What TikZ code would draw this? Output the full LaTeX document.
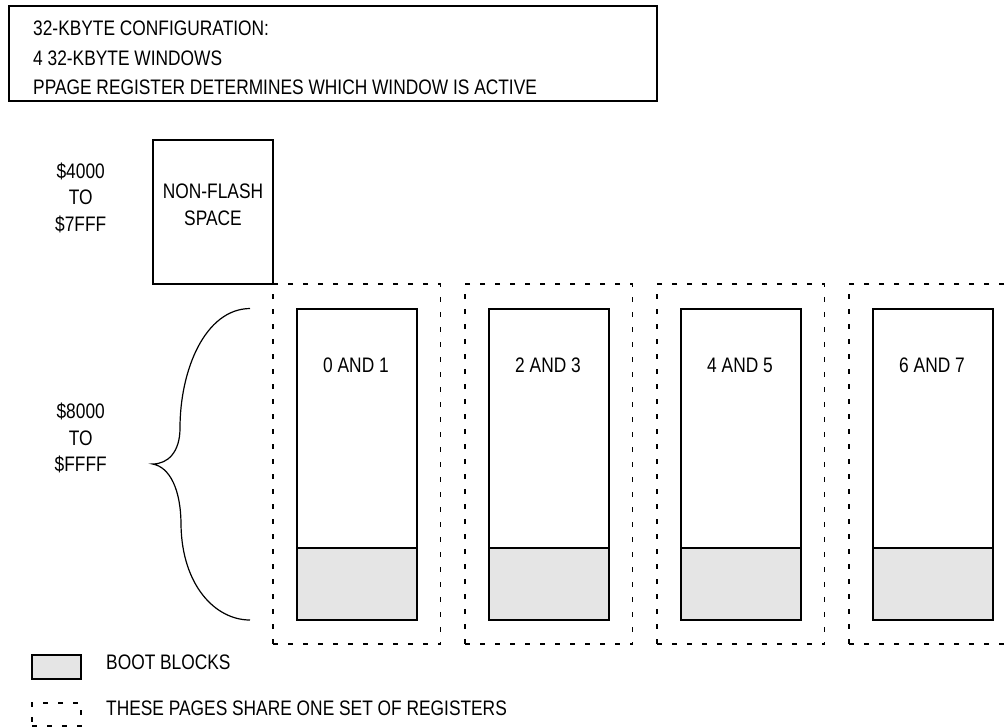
\documentclass[tikz,border=0pt]{standalone}
\usepackage{fontspec}
\setmainfont{Liberation Sans}[FakeStretch=0.826]
\definecolor{bootgray}{HTML}{E5E5E5}
\begin{document}
\begin{tikzpicture}[x=1pt,y=-1pt,
  txt/.style={font=\fontsize{21}{25}\selectfont, inner sep=0pt},
  solidbox/.style={draw, line width=1.3pt, inner sep=0pt},
  bootbox/.style={solidbox, fill=bootgray},
  sharebox/.style={draw, line width=1.4pt, inner sep=0pt, dash pattern=on 5pt off 10pt},
  bracepath/.style={line width=1.2pt}
]
\useasboundingbox (0,0) rectangle (1008,727);

% header box
\node[solidbox, minimum width=648pt, minimum height=95pt] (hdr) at (333,53.5) {};
\node[txt, anchor=base west] (h1) at (33,36) {32-KBYTE CONFIGURATION:};
\node[txt, anchor=base west] (h2) at (33,66) {4 32-KBYTE WINDOWS};
\node[txt, anchor=base west] (h3) at (33,95) {PPAGE REGISTER DETERMINES WHICH WINDOW IS ACTIVE};

% address labels
\node[txt, anchor=base] (a1) at (80.7,179) {\$4000};
\node[txt, anchor=base] (a2) at (80.7,205) {TO};
\node[txt, anchor=base] (a3) at (80.7,231.6) {\$7FFF};
\node[txt, anchor=base] (b1) at (80.7,418.5) {\$8000};
\node[txt, anchor=base] (b2) at (80.7,445) {TO};
\node[txt, anchor=base] (b3) at (80.7,471.7) {\$FFFF};

% non-flash
\node[solidbox, minimum width=120pt, minimum height=144pt] (nf) at (213,212) {};
\node[txt, anchor=base] (nf1) at (213,199) {NON-FLASH};
\node[txt, anchor=base] (nf2) at (213,225.5) {SPACE};

% windows
\foreach \i/\lab in {0/0 AND 1,1/2 AND 3,2/4 AND 5,3/6 AND 7}{
  \node[sharebox, minimum width=167.5pt, minimum height=360pt] (sh\i) at (356.75+192*\i,464) {};
  \node[solidbox, minimum width=120pt, minimum height=311pt] (w\i) at (357+192*\i,464.5) {};
  \node[bootbox, minimum width=120pt, minimum height=72pt] (bt\i) at (357+192*\i,584) {};
  \node[txt, anchor=base] (l\i) at (356+192*\i,372) {\lab};
}

% brace
\coordinate (brtop) at (250,308.5);
\coordinate (brtip) at (152.5,464);
\coordinate (brbot) at (250,620);
\draw[bracepath] (brtop) .. controls (205,309) and (180,370) .. (180,428)
  .. controls (180,452) and (168,464) .. (brtip)
  .. controls (170,467) and (181,490) .. (181,525)
  .. controls (182,585) and (215,620) .. (brbot);

% legend
\node[bootbox, minimum width=49pt, minimum height=24pt] (lg1) at (56.5,667) {};
\node[txt, anchor=base west] (lt1) at (106,669) {BOOT BLOCKS};
\node[sharebox, minimum width=49pt, minimum height=23pt] (lg2) at (56.5,714.5) {};
\node[txt, anchor=base west] (lt2) at (106,715.5) {THESE PAGES SHARE ONE SET OF REGISTERS};
\end{tikzpicture}
\end{document}
